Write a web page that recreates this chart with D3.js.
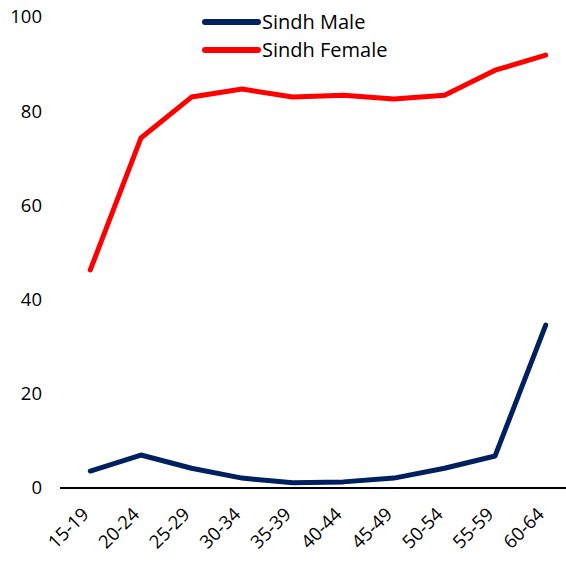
<!DOCTYPE html>
<html>
<head>
<meta charset="utf-8">
<script src="https://cdn.jsdelivr.net/npm/d3@7"></script>
<style>
  body { margin: 0; background: #fff; }
  text { font-family: "Open Sans", "Liberation Sans", sans-serif; fill: #000; }
</style>
</head>
<body>
<svg width="566" height="563"></svg>
<script>
var ageGroups = ["15-19", "20-24", "25-29", "30-34", "35-39", "40-44", "45-49", "50-54", "55-59", "60-64"],
    sindhMale = [3.6, 7.0, 4.2, 2.1, 1.1, 1.3, 2.1, 4.2, 6.8, 34.6],
    sindhFemale = [46.3, 74.3, 83.0, 84.7, 83.0, 83.4, 82.6, 83.4, 88.7, 91.9],
    yTicks = [0, 20, 40, 60, 80, 100];

var series = [
  {name: "Sindh Male", values: sindhMale, color: "#002060"},
  {name: "Sindh Female", values: sindhFemale, color: "#ff0000"}
];

var svg = d3.select("svg");

var x = d3.scaleBand().domain(ageGroups).range([65, 571]),
    y = d3.scaleLinear().domain([0, 100]).range([488, 17]);

// y labels, no axis line
svg.append("g").selectAll("text")
    .data(yTicks)
    .enter().append("text")
    .attr("x", 42)
    .attr("y", function(d) { return y(d); })
    .attr("dy", "0.35em")
    .attr("text-anchor", "end")
    .style("font-size", "18.5px")
    .text(function(d) { return d; });

// x axis
svg.append("line")
    .attr("x1", 60).attr("x2", 566)
    .attr("y1", y(0)).attr("y2", y(0))
    .attr("stroke", "#000").attr("stroke-width", 2);

svg.append("g").selectAll("text")
    .data(ageGroups)
    .enter().append("text")
    .attr("transform", function(d) {
        return "translate(" + (x(d) + x.bandwidth() / 2 - 5) + "," + 511 + ") rotate(-45)";
    })
    .attr("text-anchor", "end")
    .attr("dy", "0.35em")
    .style("font-size", "18.5px")
    .text(function(d) { return d; });

var line = d3.line()
    .x(function(d, i) { return x(ageGroups[i]) + x.bandwidth() / 2; })
    .y(function(d) { return y(d); });

svg.selectAll(".series")
    .data(series)
    .enter().append("path")
    .attr("class", "series")
    .attr("fill", "none")
    .attr("stroke", function(d) { return d.color; })
    .attr("stroke-width", 5)
    .attr("stroke-linecap", "round")
    .attr("stroke-linejoin", "round")
    .attr("d", function(d) { return line(d.values); });

// legend
var legend = svg.append("g").selectAll("g")
    .data(series)
    .enter().append("g")
    .attr("transform", function(d, i) { return "translate(205," + (22 + i * 28) + ")"; });

legend.append("line")
    .attr("x1", 0).attr("x2", 53)
    .attr("stroke", function(d) { return d.color; })
    .attr("stroke-width", 6)
    .attr("stroke-linecap", "round");

legend.append("text")
    .attr("x", 57)
    .attr("dy", "0.35em")
    .style("font-size", "20px")
    .text(function(d) { return d.name; });
</script>
</body>
</html>
